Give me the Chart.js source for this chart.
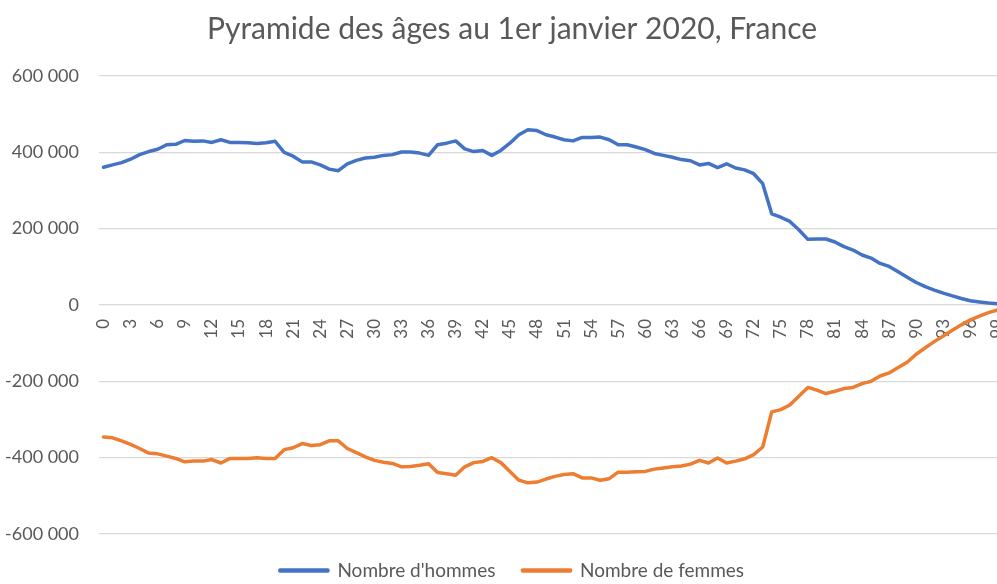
<!DOCTYPE html>
<html>
<head>
<meta charset="utf-8">
<script src="https://cdn.jsdelivr.net/npm/chart.js@4/dist/chart.umd.min.js"></script>
<style>
  html, body { margin: 0; padding: 0; overflow: hidden; background: #fff; }
  #wrap { position: absolute; left: 0; top: 0; width: 1024px; height: 590px; }
</style>
</head>
<body>
<div id="wrap"><canvas id="myChart"></canvas></div>
<script>
const ages = [
    '0', '1', '2', '3', '4', '5', '6', '7', '8', '9',
    '10', '11', '12', '13', '14', '15', '16', '17', '18', '19',
    '20', '21', '22', '23', '24', '25', '26', '27', '28', '29',
    '30', '31', '32', '33', '34', '35', '36', '37', '38', '39',
    '40', '41', '42', '43', '44', '45', '46', '47', '48', '49',
    '50', '51', '52', '53', '54', '55', '56', '57', '58', '59',
    '60', '61', '62', '63', '64', '65', '66', '67', '68', '69',
    '70', '71', '72', '73', '74', '75', '76', '77', '78', '79',
    '80', '81', '82', '83', '84', '85', '86', '87', '88', '89',
    '90', '91', '92', '93', '94', '95', '96', '97', '98', '99',
]

// hommes (positifs)
const hommes = [
    361000, 367000, 373000, 382000, 394000, 402000, 408000, 420000, 421000, 431000,
    429000, 430000, 426000, 433000, 426000, 426000, 425000, 423000, 425000, 429000,
    400000, 390000, 375000, 375000, 367000, 356000, 352000, 370000, 379000, 385000,
    387000, 392000, 394000, 401000, 401000, 398000, 392000, 420000, 424000, 430000,
    409000, 402000, 405000, 392000, 405000, 424000, 446000, 459000, 457000, 446000,
    440000, 433000, 430000, 439000, 439000, 440000, 433000, 420000, 420000, 414000,
    407000, 397000, 392000, 387000, 381000, 378000, 367000, 371000, 360000, 370000,
    359000, 354000, 344000, 318000, 239000, 230000, 219000, 197000, 172000, 173000,
    173000, 165000, 153000, 144000, 131000, 123000, 109000, 101000, 87000, 73000,
    59000, 48000, 39000, 31000, 24000, 17000, 11000, 8000, 5000, 3000,
]

// femmes (negatifs)
const femmes = [
    -346000, -348000, -356000, -365000, -376000, -388000, -390000, -396000, -402000, -411000,
    -409000, -409000, -405000, -414000, -402000, -402000, -402000, -400000, -402000, -402000,
    -379000, -374000, -363000, -368000, -366000, -356000, -356000, -376000, -387000, -398000,
    -407000, -412000, -415000, -424000, -423000, -420000, -416000, -439000, -442000, -446000,
    -424000, -413000, -410000, -400000, -413000, -436000, -459000, -466000, -464000, -456000,
    -449000, -444000, -442000, -453000, -453000, -459000, -455000, -438000, -438000, -437000,
    -436000, -430000, -427000, -424000, -422000, -417000, -407000, -414000, -401000, -414000,
    -409000, -403000, -392000, -372000, -280000, -274000, -262000, -239000, -216000, -223000,
    -232000, -226000, -219000, -216000, -206000, -200000, -186000, -178000, -164000, -150000,
    -129000, -112000, -96000, -81000, -66000, -52000, -39000, -29000, -20000, -13000,
]

const yTicks = [-600000, -400000, -200000, 0, 200000, 400000, 600000]

const textColor = '#595959'
const fontName = 'Lato'

function formatNombre(v) {
    const s = String(Math.abs(v)).replace(/\B(?=(\d{3})+(?!\d))/g, ' ')
    return v < 0 ? '-' + s : s
}

const ctx = document.getElementById('myChart').getContext('2d')
const myChart = new Chart(ctx, {
    type: 'line',
    data: {
        labels: ages,
        datasets: [{
            label: "Nombre d'hommes",
            data: hommes,
            borderColor: '#4472C4',
            backgroundColor: '#4472C4',
            borderWidth: 3.5,
            pointRadius: 0,
            borderJoinStyle: 'round',
            borderCapStyle: 'round',
            tension: 0,
        }, {
            label: 'Nombre de femmes',
            data: femmes,
            borderColor: '#ED7D31',
            backgroundColor: '#ED7D31',
            borderWidth: 3.5,
            pointRadius: 0,
            borderJoinStyle: 'round',
            borderCapStyle: 'round',
            tension: 0,
        }]
    },
    options: {
        responsive: true,
        maintainAspectRatio: false,
        animation: false,
        layout: {
            padding: 0
        },
        plugins: {
            title: {
                display: true,
                text: 'Pyramide des âges au 1er janvier 2020, France',
                color: textColor,
                font: { family: fontName, size: 30, weight: 'normal' },
                padding: { top: 11, bottom: 29 },
            },
            legend: {
                position: 'bottom',
                labels: {
                    color: textColor,
                    font: { family: fontName, size: 19 },
                    boxWidth: 48,
                    boxHeight: 1,
                    padding: 27,
                },
            },
            tooltip: { enabled: false },
        },
        scales: {
            x: {
                position: { y: 0 },
                offset: true,
                afterFit: (scale) => {
                    scale.paddingLeft = 0
                    scale.paddingRight = 0
                },
                grid: { display: false, drawTicks: false },
                border: { display: false },
                ticks: {
                    color: textColor,
                    font: { family: fontName, size: 17 },
                    autoSkip: false,
                    minRotation: 90,
                    maxRotation: 90,
                    padding: 14,
                    callback: function (value, index) {
                        return index % 3 === 0 ? ages[index] : ''
                    },
                },
            },
            y: {
                min: -600000,
                max: 600000,
                afterFit: (scale) => { scale.width = 99 },
                afterBuildTicks: (scale) => {
                    scale.ticks = yTicks.map(v => ({ value: v }))
                },
                grid: { color: '#d9d9d9', lineWidth: 1.3, drawTicks: false },
                border: { display: false },
                ticks: {
                    color: textColor,
                    font: { family: fontName, size: 18 },
                    padding: 20,
                    callback: (v) => formatNombre(v),
                },
            },
            // marge droite vide (le graphique original est coupé à droite)
            yDroite: {
                position: 'right',
                min: -600000,
                max: 600000,
                afterFit: (scale) => { scale.width = 22 },
                grid: { display: false },
                border: { display: false },
                ticks: { display: false },
            },
        },
    },
})
</script>
</body>
</html>
